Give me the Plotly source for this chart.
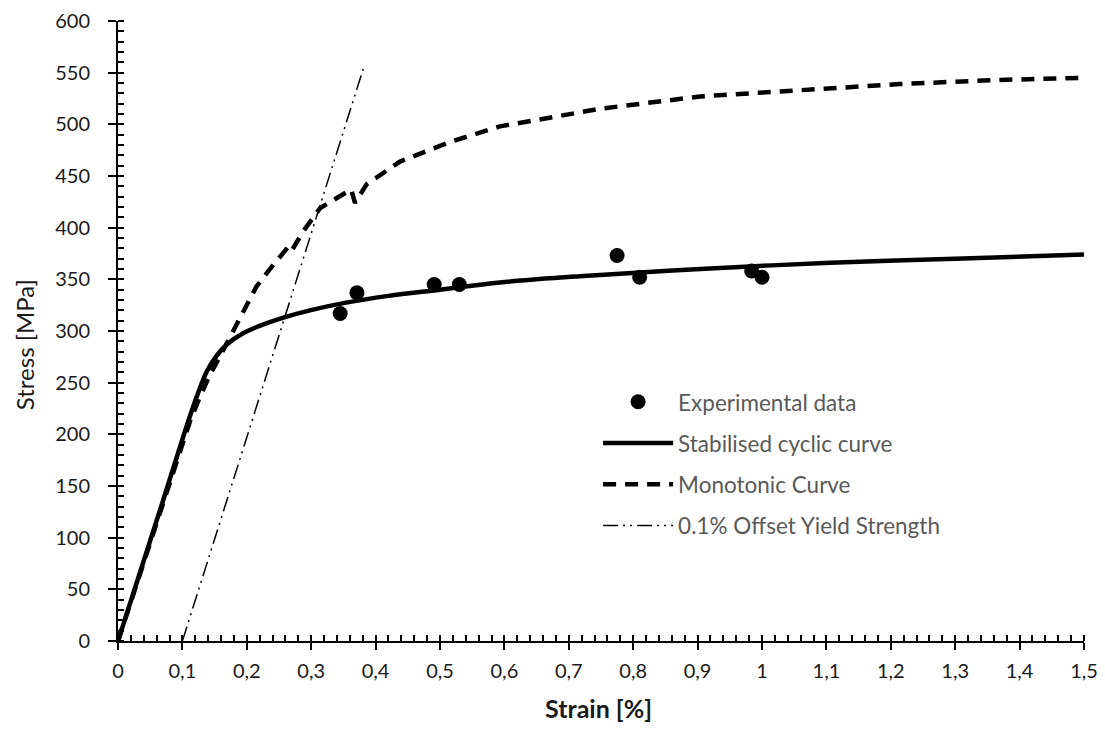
import plotly.graph_objects as go

# Experimental data
exp_strain = [0.345, 0.371, 0.491, 0.530, 0.775, 0.810, 0.984, 1.000]
exp_stress = [317, 337, 345, 345, 373, 352, 358, 352]

# Stabilised cyclic curve
cyc_strain = [0.0, 0.035, 0.070, 0.104, 0.122, 0.138, 0.153, 0.169, 0.195, 0.220,
              0.257, 0.298, 0.350, 0.420, 0.500, 0.593, 0.717, 0.904, 1.106, 1.300, 1.500]
cyc_stress = [0, 68, 136, 203, 236, 261, 276, 287, 298, 305,
              313, 320, 327, 334, 340, 347, 353, 360, 366, 370, 374]

# Monotonic curve
mono_strain = [0.0, 0.035, 0.070, 0.112, 0.127, 0.143, 0.163, 0.179, 0.200, 0.215, 0.236, 0.257,
               0.265, 0.270, 0.287, 0.314, 0.340, 0.362, 0.368, 0.386, 0.438, 0.516, 0.593,
               0.671, 0.748, 0.904, 1.059, 1.214, 1.370, 1.500]
mono_stress = [0, 66, 134, 213, 236, 258, 281, 300, 326, 343, 360, 376,
               382, 378, 396, 419, 429, 437, 424, 442, 464, 483, 498,
               507, 515, 527, 533, 539, 543, 545]

# 0.1% offset yield strength line
off_strain = [0.1, 0.381]
off_stress = [0, 554]

x_tickvals = [0, 0.1, 0.2, 0.3, 0.4, 0.5, 0.6, 0.7, 0.8, 0.9, 1.0, 1.1, 1.2, 1.3, 1.4, 1.5]
x_ticktext = ["0", "0,1", "0,2", "0,3", "0,4", "0,5", "0,6", "0,7", "0,8", "0,9", "1",
              "1,1", "1,2", "1,3", "1,4", "1,5"]

FONT = "Lato, sans-serif"

fig = go.Figure()
fig.add_trace(go.Scatter(x=exp_strain, y=exp_stress, mode="markers", name="Experimental data",
                         marker=dict(color="black", size=15), legendgroup="a"))
fig.add_trace(go.Scatter(x=cyc_strain, y=cyc_stress, mode="lines", name="Stabilised cyclic curve",
                         line=dict(color="black", width=4.5, shape="spline", smoothing=1.0),
                         legendgroup="b"))
fig.add_trace(go.Scatter(x=mono_strain, y=mono_stress, mode="lines", name="Monotonic Curve",
                         line=dict(color="black", width=4.5, dash="13px,9px"),
                         legendgroup="c"))
fig.add_trace(go.Scatter(x=off_strain, y=off_stress, mode="lines", name="0.1% Offset Yield Strength",
                         line=dict(color="black", width=1.5, dash="15px,5px,2px,5px,2px,5px"),
                         legendgroup="d"))

fig.update_layout(
    width=1097, height=721,
    margin=dict(l=110, r=21, t=13, b=88),
    plot_bgcolor="white", paper_bgcolor="white",
    font=dict(family=FONT, size=20, color="#1a1a1a"),
    showlegend=True,
    legend=dict(x=0.497, y=0.42, xanchor="left", yanchor="top", bgcolor="rgba(0,0,0,0)",
                font=dict(size=22.5, color="#595959"), itemwidth=70, tracegroupgap=9,
                traceorder="grouped"),
    annotations=[
        dict(text="Stress [MPa]", xref="paper", yref="paper", x=0, y=0.477,
             xanchor="center", yanchor="middle", xshift=-94, textangle=-90, showarrow=False,
             font=dict(size=24, color="#1a1a1a")),
        dict(text="<b>Strain [%]</b>", xref="paper", yref="paper", x=0.497, y=0,
             xanchor="center", yanchor="middle", yshift=-67, showarrow=False,
             font=dict(size=25, color="#1a1a1a")),
    ],
)
fig.update_xaxes(
    range=[0, 1.5], tickvals=x_tickvals, ticktext=x_ticktext, automargin=False,
    showgrid=False, zeroline=False, showline=True, linecolor="black", linewidth=2,
    ticks="outside", ticklen=7, tickwidth=2, tickcolor="black",
    tickfont=dict(size=20), ticklabelstandoff=4, ticklabeloverflow="allow",
    minor=dict(dtick=0.02, ticks="inside", ticklen=6, tickwidth=1.5, tickcolor="black"),
)
fig.update_yaxes(
    range=[0, 600], dtick=50, automargin=False,
    showgrid=False, zeroline=False, showline=True, linecolor="black", linewidth=2,
    ticks="outside", ticklen=8, tickwidth=2, tickcolor="black",
    tickfont=dict(size=20), ticklabelstandoff=14, ticklabeloverflow="allow",
    minor=dict(dtick=10, ticks="inside", ticklen=6, tickwidth=1.5, tickcolor="black"),
)

fig.write_html("out.html")
